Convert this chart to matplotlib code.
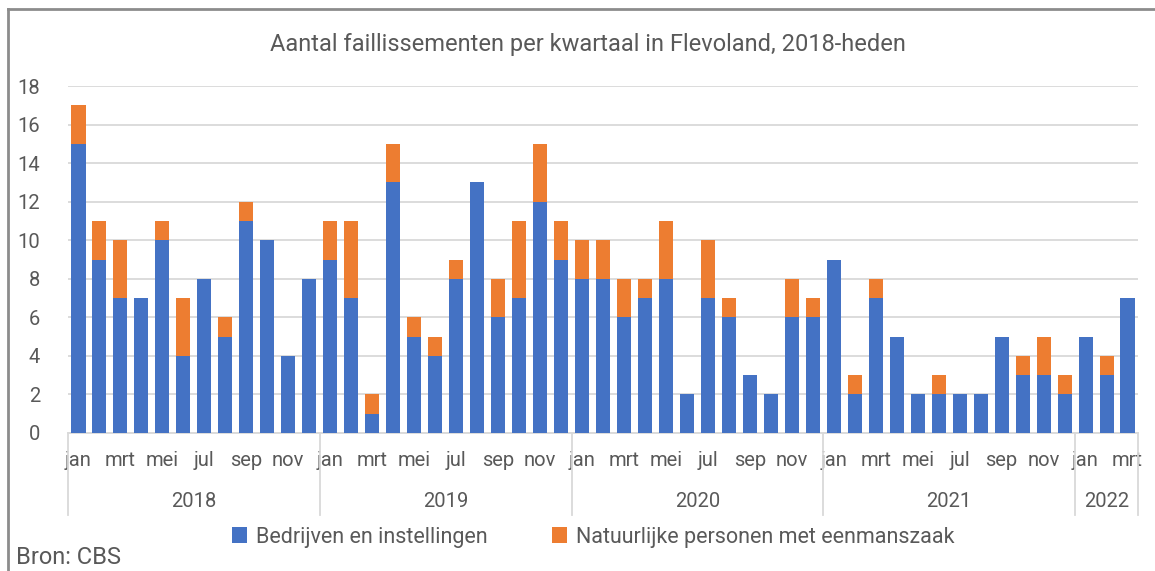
import numpy as np
import matplotlib
matplotlib.use("Agg")
import matplotlib.pyplot as plt
from matplotlib.lines import Line2D
from matplotlib.transforms import blended_transform_factory

plt.rcParams['font.family'] = ['Roboto', 'DejaVu Sans']

# data: monthly bankruptcies, jan 2018 .. mrt 2022
years = ['2018', '2019', '2020', '2021', '2022']
months_per_year = [12, 12, 12, 12, 3]
month_names = ['jan', 'feb', 'mrt', 'apr', 'mei', 'jun',
               'jul', 'aug', 'sep', 'okt', 'nov', 'dec']

bedrijven = [15, 9, 7, 7, 10, 4, 8, 5, 11, 10, 4, 8,
             9, 7, 1, 13, 5, 4, 8, 13, 6, 7, 12, 9,
             8, 8, 6, 7, 8, 2, 7, 6, 3, 2, 6, 6,
             9, 2, 7, 5, 2, 2, 2, 2, 5, 3, 3, 2,
             5, 3, 7]
natuurlijk = [2, 2, 3, 0, 1, 3, 0, 1, 1, 0, 0, 0,
              2, 4, 1, 2, 1, 1, 1, 0, 2, 4, 3, 2,
              2, 2, 2, 1, 3, 0, 3, 1, 0, 0, 2, 1,
              0, 1, 1, 0, 0, 1, 0, 0, 0, 1, 2, 1,
              0, 1, 0]

blue = '#4472c4'
orange = '#ed7d31'
txt = '#595959'
grid = '#d9d9d9'

fig = plt.figure(figsize=(11.55, 5.71), dpi=100)
ax = fig.add_axes([68 / 1155, 1 - 433 / 571, (1138 - 68) / 1155, (433 - 86) / 571])

x = np.arange(len(bedrijven))
ax.bar(x, bedrijven, width=0.67, color=blue, label='Bedrijven en instellingen', zorder=3)
ax.bar(x, natuurlijk, width=0.67, bottom=bedrijven, color=orange,
       label='Natuurlijke personen met eenmanszaak', zorder=3)

ax.set_xlim(-0.5, len(x) - 0.5)
ax.set_ylim(0, 18)
ax.set_yticks(np.arange(0, 19, 2))
ax.yaxis.grid(True, color=grid, lw=1.3, zorder=0)
ax.tick_params(axis='y', length=0, labelsize=14.5, labelcolor=txt, pad=20)

# month labels, every other month
labels = []
ticks = []
i = 0
for n in months_per_year:
    for m in range(n):
        if m % 2 == 0:
            ticks.append(i)
            labels.append(month_names[m])
        i += 1
ax.set_xticks(ticks)
ax.set_xticklabels(labels)
ax.tick_params(axis='x', length=0, labelsize=14.5, labelcolor=txt, pad=13)

for s in ['top', 'right', 'left']:
    ax.spines[s].set_visible(False)
ax.spines['bottom'].set_color(grid)
ax.spines['bottom'].set_linewidth(1.3)

# year groups with separators
tr = blended_transform_factory(ax.transData, ax.transAxes)
start = 0
seps = [-0.5]
for yr, n in zip(years, months_per_year):
    ax.text(start + (n - 1) / 2, -0.197, yr, transform=tr, ha='center', va='center',
            fontsize=14.5, color=txt)
    start += n
    seps.append(start - 0.5)
for s in seps:
    ax.add_line(Line2D([s, s], [0, -0.237], transform=tr, color=grid, lw=1.3, clip_on=False))

fig.text(588 / 1155, 1 - 45 / 571, 'Aantal faillissementen per kwartaal in Flevoland, 2018-heden',
         ha='center', va='center', fontsize=17, color=txt)

fig.legend(loc='center', bbox_to_anchor=(593 / 1155, 1 - 537 / 571), ncol=2, frameon=False,
           fontsize=15.5, labelcolor=txt, handlelength=0.7, handleheight=0.7,
           handletextpad=0.4, columnspacing=3.0)

fig.text(16 / 1155, 1 - 557 / 571, 'Bron: CBS', ha='left', va='center', fontsize=17, color=txt)

# outer frame (left + top)
fig.add_artist(Line2D([8 / 1155, 8 / 1155], [0, 1 - 9 / 571], transform=fig.transFigure,
                      color='#8c8c8c', lw=2))
fig.add_artist(Line2D([8 / 1155, 1], [1 - 9 / 571, 1 - 9 / 571], transform=fig.transFigure,
                      color='#8c8c8c', lw=2))

fig.savefig('out.png', dpi=100)
